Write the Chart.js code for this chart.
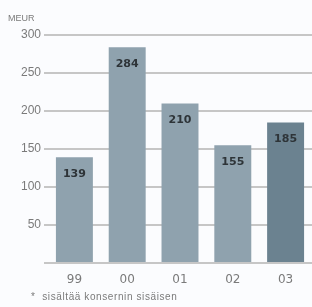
<!DOCTYPE html>
<html>
<head>
<meta charset="utf-8">
<script src="https://cdn.jsdelivr.net/npm/chart.js@4/dist/chart.umd.min.js"></script>
<style>
  body { margin: 0; background: #fbfcfe; }
  #wrap { position: relative; width: 312px; height: 307px; }
  #note { position: absolute; left: 31px; top: 291px; font: 10px "Liberation Sans", Arial, sans-serif; letter-spacing: 0.6px; color: #7a7a7a; white-space: nowrap; }
</style>
</head>
<body>
<div id="wrap">
  <canvas id="c" width="312" height="307"></canvas>
  <div id="note">*&nbsp; sisältää konsernin sisäisen</div>
</div>
<script>
const years = ["99", "00", "01", "02", "03"];
const values = [139, 284, 210, 155, 185];
const barColors = ["#8fa2ae", "#8fa2ae", "#8fa2ae", "#8fa2ae", "#6b8290"];
const yTicks = [0, 50, 100, 150, 200, 250, 300];

// values inside bar tops + unit label
const barLabels = {
  id: "barLabels",
  afterDatasetsDraw(chart) {
    const ctx = chart.ctx;
    const meta = chart.getDatasetMeta(0);
    ctx.save();
    ctx.font = "bold 11px 'DejaVu Sans', sans-serif";
    ctx.fillStyle = "#2e3438";
    ctx.textAlign = "center";
    ctx.textBaseline = "top";
    meta.data.forEach((bar, i) => {
      ctx.fillText(values[i], bar.x, bar.y + 11);
    });
    ctx.font = "9px 'Liberation Sans', Arial, sans-serif";
    ctx.fillStyle = "#7a7a7a";
    ctx.textAlign = "left";
    ctx.fillText("MEUR", 8, 14);
    ctx.restore();
  }
};

new Chart(document.getElementById("c"), {
  type: "bar",
  data: {
    labels: years,
    datasets: [{
      data: values,
      backgroundColor: barColors,
      barPercentage: 0.7,
      categoryPercentage: 1
    }]
  },
  options: {
    responsive: false,
    animation: false,
    layout: { padding: { top: 35, left: 0, right: 0, bottom: 0 } },
    plugins: { legend: { display: false }, tooltip: { enabled: false } },
    scales: {
      x: {
        afterFit(axis) { axis.height = 44; },
        grid: { display: false },
        border: { display: false },
        ticks: { color: "#7a7a7a", font: { size: 12, family: "DejaVu Sans" }, padding: 2 }
      },
      y: {
        min: 0,
        max: 300,
        afterFit(axis) { axis.width = 48; },
        afterBuildTicks(axis) { axis.ticks = yTicks.map(v => ({ value: v })); },
        grid: { color: "#c6c6c6", lineWidth: 2, tickLength: 4 },
        border: { display: false },
        ticks: {
          color: "#7a7a7a",
          font: { size: 12, family: "Liberation Sans" },
          padding: 3,
          callback: (v) => v === 0 ? "" : v
        }
      }
    }
  },
  plugins: [barLabels]
});
</script>
</body>
</html>
